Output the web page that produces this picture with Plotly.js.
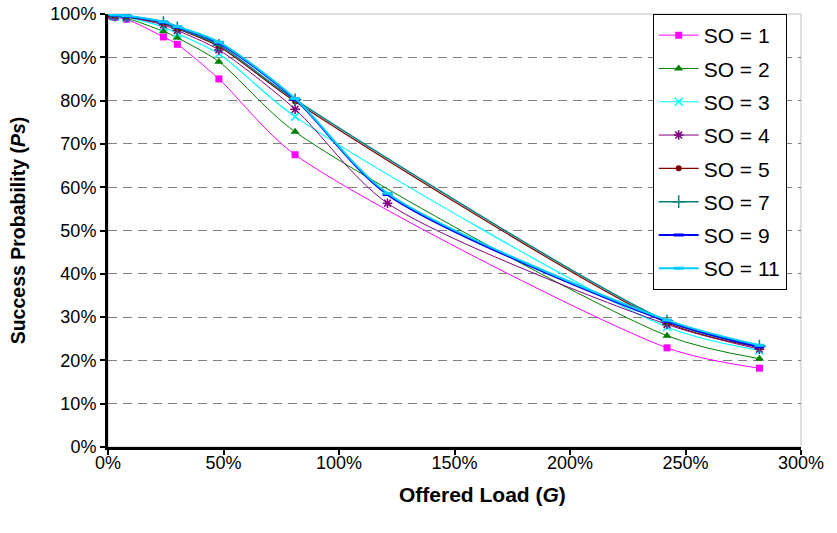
<!DOCTYPE html>
<html>
<head>
<meta charset="utf-8">
<script src="https://cdn.plot.ly/plotly-3.0.1.min.js"></script>
<style>html,body{margin:0;padding:0;background:#fff;}#chart{width:837px;height:533px;}</style>
</head>
<body>
<div id="chart"></div>
<script>
// Offered load (G) sample points, as fractions
const loadX = [0.01, 0.03, 0.08, 0.24, 0.30, 0.48, 0.81, 2.42, 2.82];
const loadX120 = [0.01, 0.03, 0.08, 0.24, 0.30, 0.48, 0.81, 1.21, 2.42, 2.82];

// Success probability (%) per SO value
const so1 = [99.6, 99.2, 98.8, 94.7, 93.0, 85.0, 67.5, 22.9, 18.2];
const so2 = [99.7, 99.3, 99.0, 96.0, 94.5, 89.0, 72.8, 25.7, 20.4];
const so3 = [99.8, 99.4, 99.2, 97.0, 95.5, 90.8, 76.3, 27.7, 22.3];
const so4 = [99.8, 99.5, 99.3, 97.5, 96.2, 91.7, 78.0, 56.3, 28.3, 22.6];
const so5 = [99.9, 99.6, 99.4, 97.8, 96.6, 92.5, 79.8, 28.7, 23.0];
const so7 = [100, 99.7, 99.5, 98.0, 96.8, 92.8, 80.2, 29.1, 23.3];
const so9 = [100, 99.7, 99.5, 98.1, 97.0, 93.3, 80.3, 58.3, 29.0, 23.1];
const so11 = [100, 99.8, 99.6, 98.2, 97.1, 93.5, 80.5, 58.6, 29.3, 23.5];

const seriesNames = ["SO = 1", "SO = 2", "SO = 3", "SO = 4", "SO = 5", "SO = 7", "SO = 9", "SO = 11"];
const xTickVals = [0, 0.5, 1, 1.5, 2, 2.5, 3];
const yTickVals = [0, 0.1, 0.2, 0.3, 0.4, 0.5, 0.6, 0.7, 0.8, 0.9, 1.0];
const xTitle = '<b>Offered Load (<i>G</i>)</b>';
const yTitle = '<b>Success Probability (<i>Ps</i>)</b>';

const seriesX = [loadX, loadX, loadX, loadX120, loadX, loadX, loadX120, loadX120];
const seriesY = [so1, so2, so3, so4, so5, so7, so9, so11];

const styles = [
  {color: '#FF00FF', width: 1, marker: {symbol: 'square', size: 7, color: '#FF00FF'}},
  {color: '#008000', width: 1, marker: {symbol: 'triangle-up', size: 8, color: '#008000'}},
  {color: '#00FFFF', width: 1.2, marker: {symbol: 'x-thin', size: 8, color: '#00FFFF', line: {color: '#00FFFF', width: 1.5}}},
  {color: '#800080', width: 1, marker: {symbol: 'asterisk', size: 8, color: '#800080', line: {color: '#800080', width: 1.5}}},
  {color: '#800000', width: 1.2, marker: {symbol: 'circle', size: 6, color: '#800000'}},
  {color: '#008080', width: 1.5, marker: {symbol: 'cross-thin', size: 9, color: '#008080', line: {color: '#008080', width: 1.5}}},
  {color: '#0000FF', width: 2, marker: {symbol: 'line-ew', size: 7, color: '#0000FF', line: {color: '#0000FF', width: 3}}},
  {color: '#00CCFF', width: 2, marker: {symbol: 'line-ew', size: 7, color: '#00CCFF', line: {color: '#00CCFF', width: 3}}}
];

const traces = seriesNames.map((name, i) => ({
  type: 'scatter',
  mode: 'lines+markers',
  name: name,
  legendgroup: 'g' + i,
  x: seriesX[i],
  y: seriesY[i].map(v => v / 100),
  line: {color: styles[i].color, width: styles[i].width, shape: 'spline', smoothing: 0.8},
  marker: styles[i].marker
}));

const layout = {
  width: 837, height: 533,
  margin: {l: 108, r: 36, t: 14, b: 86},
  paper_bgcolor: '#ffffff',
  plot_bgcolor: '#ffffff',
  font: {family: 'Liberation Sans, Arial, sans-serif', color: '#000', size: 18},
  showlegend: true,
  legend: {
    x: 0.786, y: 1.0, xanchor: 'left', yanchor: 'top',
    bgcolor: '#ffffff', bordercolor: '#000000', borderwidth: 1,
    font: {size: 21, family: 'Liberation Sans, Arial, sans-serif'},
    traceorder: 'grouped', tracegroupgap: 3, maxheight: 520, itemwidth: 40
  },
  xaxis: {
    range: [0, 3], tickvals: xTickVals, tickformat: '.0%',
    showgrid: false, zeroline: false,
    showline: true, linecolor: '#000', linewidth: 3,
    ticks: 'outside', ticklen: 5, tickwidth: 2, tickcolor: '#000',
    tickfont: {size: 18}, ticklabelstandoff: -8
  },
  yaxis: {
    range: [0, 1], tickvals: yTickVals, tickformat: '.0%',
    showgrid: true, gridcolor: '#808080', gridwidth: 1, griddash: '9px,6px',
    zeroline: false,
    showline: true, linecolor: '#000', linewidth: 3,
    ticks: 'outside', ticklen: 5, tickwidth: 2, tickcolor: '#000',
    tickfont: {size: 18},
    title: {text: yTitle, font: {size: 19.5}, standoff: 20}
  },
  annotations: [{
    text: xTitle, xref: 'paper', yref: 'paper', x: 0.54, y: -0.109,
    xanchor: 'center', yanchor: 'middle', showarrow: false,
    font: {size: 21}
  }],
  shapes: [{
    type: 'rect', xref: 'paper', yref: 'paper', x0: 0, x1: 1, y0: 0, y1: 1,
    line: {color: '#c0c0c0', width: 1}, layer: 'below'
  }]
};

Plotly.newPlot('chart', traces, layout, {displayModeBar: false, staticPlot: true});
</script>
</body>
</html>
